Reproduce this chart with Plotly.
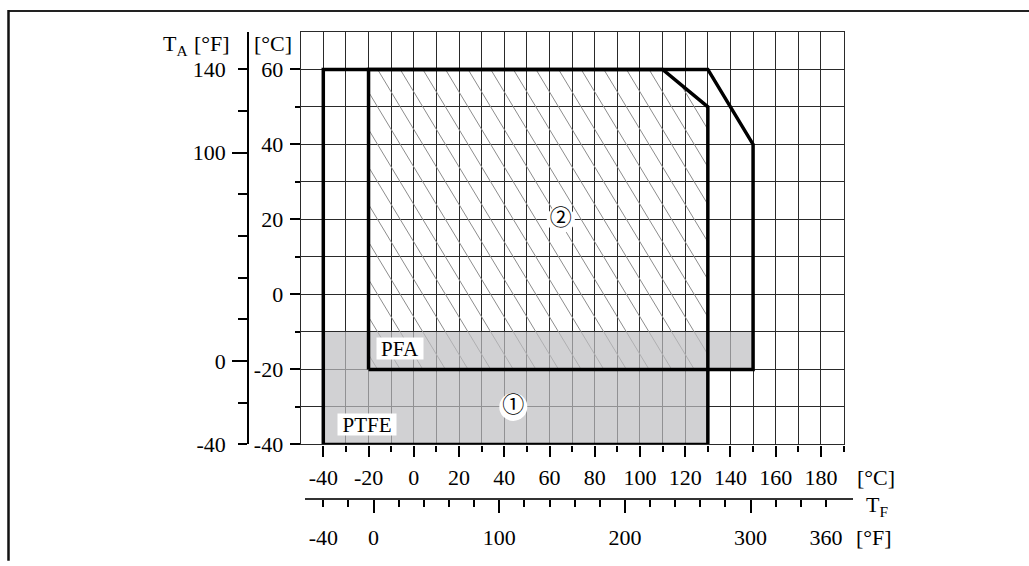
import plotly.graph_objects as go

# ---------------- data ----------------
# outlines (°C): T_F on x, T_A on y
ptfe_outline_x = [-40, -40, 110, 130, 130, -40]
ptfe_outline_y = [-40, 60, 60, 50, -40, -40]
pfa_outline_x = [-20, -20, 130, 150, 150, -20]
pfa_outline_y = [-20, 60, 60, 40, -20, -20]
# grey region (1)
gray_x = [-40, 130, 130, 150, 150, -40, -40]
gray_y = [-40, -40, -20, -20, -10, -10, -40]
# hatched region (2)
hatch_poly_x = [-20, -20, 110, 130, 130]
hatch_poly_y = [-20, 60, 60, 50, -20]

# axis ticks
c_x_major = [-40, -20, 0, 20, 40, 60, 80, 100, 120, 140, 160, 180]
c_x_minor = [-30, -10, 10, 30, 50, 70, 90, 110, 130, 150, 170, 190]
c_y_major = [-40, -20, 0, 20, 40, 60]
c_y_minor = [-30, -10, 10, 30, 50]
f_y_labeled = [-40, 0, 100, 140]
f_y_other = [-20, 20, 40, 60, 80, 120]
f_y_long = [0, 100]
f_x_labeled = [-40, 0, 100, 200, 300, 360]
f_x_other = [-20, 20, 40, 60, 80, 120, 140, 160, 180, 220, 240, 260, 280, 320, 340]
f_x_long = [0, 100, 200, 300]

labels = {"PFA": (-6, -14.3), "PTFE": (-20.5, -34.8)}
markers = {"\u2460": (44, -30), "\u2461": (65, 20)}


def txt(v):
    return str(v)  # plain hyphen-minus as in the reference


# ---------------- geometry ----------------
W, H = 1029, 566
L, R, T, B = 100, 100, 20, 20
PW, PH = W - L - R, H - T - B


def pxx(px):
    return (px - L) / PW


def pxy(py):
    return (H - B - py) / PH


C0_PX, C_SCALE = 323.3, 2.262      # -40 °C position, px per °C
X_LEFT = C0_PX - 10 * C_SCALE       # -50 °C
X_RIGHT = C0_PX + 230 * C_SCALE     # 190 °C
Y_TOP, Y_BOT = 32.0, 448.5          # 70 °C, -40 °C

FAX_L, FAX_R, FAX_Y = 305.0, 853.0, 504.0


def px_to_f(px):
    c = -40 + (px - C0_PX) / C_SCALE
    return 1.8 * c + 32


SERIF = "Liberation Serif, Times New Roman, serif"
FONT = dict(family=SERIF, size=22, color="black")
GRID = "#2a2a2a"


# ---------------- hatch lines clipped to polygon ----------------
def clip(p0, p1, px, py):
    n = len(px)
    cx, cy = sum(px) / n, sum(py) / n
    t0, t1 = 0.0, 1.0
    dx, dy = p1[0] - p0[0], p1[1] - p0[1]
    for i in range(n):
        ax, ay = px[i], py[i]
        bx, by = px[(i + 1) % n], py[(i + 1) % n]
        nx, ny = -(by - ay), (bx - ax)
        if nx * (cx - ax) + ny * (cy - ay) < 0:
            nx, ny = -nx, -ny
        num = nx * (p0[0] - ax) + ny * (p0[1] - ay)
        den = nx * dx + ny * dy
        if den == 0:
            if num < 0:
                return None
            continue
        t = -num / den
        if den > 0:
            t0 = max(t0, t)
        else:
            t1 = min(t1, t)
        if t0 > t1:
            return None
    return (p0[0] + t0 * dx, p0[1] + t0 * dy), (p0[0] + t1 * dx, p0[1] + t1 * dy)


SLOPE = 1.0
hx, hy = [], []
for k in range(-30, 30):
    c = 4 + 10 * k
    p0 = (c - SLOPE * 10, 70)
    p1 = (c + SLOPE * 90, -30)
    seg = clip(p0, p1, hatch_poly_x, hatch_poly_y)
    if seg:
        hx += [seg[0][0], seg[1][0], None]
        hy += [seg[0][1], seg[1][1], None]

fig = go.Figure()
fig.add_trace(go.Scatter(x=hx, y=hy, mode="lines",
                         line=dict(color="#8c8c8c", width=1), hoverinfo="skip"))
fig.add_trace(go.Scatter(x=gray_x, y=gray_y, mode="lines", fill="toself",
                         fillcolor="rgba(190,190,193,0.70)", line=dict(width=0),
                         hoverinfo="skip"))
for ox, oy in [(ptfe_outline_x, ptfe_outline_y), (pfa_outline_x, pfa_outline_y)]:
    fig.add_trace(go.Scatter(x=ox, y=oy, mode="lines",
                             line=dict(color="black", width=3.5), hoverinfo="skip"))
fig.add_trace(go.Scatter(
    x=[v[0] for v in markers.values()], y=[v[1] for v in markers.values()],
    mode="markers+text", text=list(markers.keys()), textposition="middle center",
    marker=dict(color="white", size=28, line=dict(width=0)),
    textfont=dict(family="Noto Sans CJK JP", size=22, color="black"),
    hoverinfo="skip"))
# dummy traces for secondary axes
fig.add_trace(go.Scatter(x=[None], y=[None], xaxis="x", yaxis="y2", showlegend=False))
fig.add_trace(go.Scatter(x=[None], y=[None], xaxis="x", yaxis="y3", showlegend=False))
fig.add_trace(go.Scatter(x=[None], y=[None], xaxis="x2", yaxis="y4", showlegend=False))
fig.add_trace(go.Scatter(x=[None], y=[None], xaxis="x3", yaxis="y4", showlegend=False))

for name, (lx, ly) in labels.items():
    fig.add_annotation(x=lx, y=ly, xref="x", yref="y", text=name, showarrow=False,
                       font=dict(family=SERIF, size=21, color="black"),
                       bgcolor="white", width=len(name) * 12 + 10, height=21,
                       borderpad=0)

tick_common = dict(ticks="outside", tickcolor="black", tickwidth=1.5,
                   tickfont=FONT, zeroline=False, fixedrange=True)

fig.update_layout(
    width=W, height=H, margin=dict(l=L, r=R, t=T, b=B),
    paper_bgcolor="white", plot_bgcolor="rgba(0,0,0,0)", showlegend=False,
    xaxis=dict(domain=[pxx(X_LEFT), pxx(X_RIGHT)], range=[-50, 190], anchor="y",
               tickmode="array", tickvals=c_x_major,
               ticktext=[txt(v) for v in c_x_major], ticklen=11,
               showgrid=True, gridcolor=GRID, gridwidth=1.2,
               showline=True, linecolor=GRID, linewidth=1.2, mirror=True,
               minor=dict(tickmode="array", tickvals=c_x_minor, ticks="outside",
                          ticklen=6, tickwidth=1.5, tickcolor="black",
                          showgrid=True, gridcolor=GRID, gridwidth=1.2),
               ticklabelstandoff=2, **tick_common),
    yaxis=dict(domain=[pxy(Y_BOT), pxy(Y_TOP)], range=[-40, 70], anchor="x",
               tickmode="array", tickvals=c_y_major,
               ticktext=[txt(v) for v in c_y_major], ticklen=10,
               showgrid=True, gridcolor=GRID, gridwidth=1.2,
               showline=True, linecolor=GRID, linewidth=1.2, mirror=True,
               minor=dict(tickmode="array", tickvals=c_y_minor, ticks="outside",
                          ticklen=5, tickwidth=1.5, tickcolor="black",
                          showgrid=True, gridcolor=GRID, gridwidth=1.2),
               ticklabelstandoff=2, **tick_common),
    yaxis2=dict(overlaying="y", anchor="free", position=pxx(248), side="left",
                range=[-40, 158], tickmode="array", tickvals=f_y_labeled,
                ticktext=[txt(v) for v in f_y_labeled], ticklen=9, showgrid=False,
                showline=True, linecolor="black", linewidth=1.5,
                minor=dict(tickmode="array", tickvals=f_y_other, ticks="outside",
                           ticklen=9, tickwidth=1.5, tickcolor="black",
                           showgrid=False),
                ticklabelstandoff=8, **tick_common),
    yaxis3=dict(overlaying="y", anchor="free", position=pxx(248), side="left",
                range=[-40, 158], tickmode="array", tickvals=f_y_long,
                ticklen=16, showgrid=False, showline=False, showticklabels=False,
                **tick_common),
    yaxis4=dict(domain=[pxy(Y_BOT), pxy(Y_TOP)], anchor="x2", visible=False,
                range=[0, 1], showgrid=False, zeroline=False),
    xaxis2=dict(domain=[pxx(FAX_L), pxx(FAX_R)], anchor="free", position=pxy(FAX_Y),
                range=[px_to_f(FAX_L), px_to_f(FAX_R)], tickmode="array",
                tickvals=f_x_labeled, ticktext=[txt(v) for v in f_x_labeled],
                ticklen=7, showgrid=False, showline=True, linecolor="#333",
                linewidth=1.5,
                minor=dict(tickmode="array", tickvals=f_x_other, ticks="outside",
                           ticklen=7, tickwidth=1.5, tickcolor="black",
                           showgrid=False),
                ticklabelstandoff=11, **tick_common),
    xaxis3=dict(overlaying="x2", anchor="free", position=pxy(FAX_Y),
                range=[px_to_f(FAX_L), px_to_f(FAX_R)], tickmode="array",
                tickvals=f_x_long, ticklen=13, showgrid=False, showline=False,
                showticklabels=False, **tick_common),
)

# axis titles / units
texts = [
    ("T<sub>A</sub>", 161, 45, "left"),
    ("[°F]", 212, 44, "center"),
    ("[°C]", 272.5, 44, "center"),
    ("[°C]", 876, 482, "center"),
    ("T<sub>F</sub>", 864, 511, "left"),
    ("[°F]", 874, 542, "center"),
]
for t_, px, py, xa in texts:
    fig.add_annotation(x=pxx(px), y=pxy(py), xref="paper", yref="paper", text=t_,
                       showarrow=False, xanchor=xa, yanchor="middle", font=FONT)

# page frame
fig.add_shape(type="line", xref="paper", yref="paper", x0=pxx(8.5), x1=pxx(1029),
              y0=pxy(11), y1=pxy(11), line=dict(color="#222", width=2))
fig.add_shape(type="line", xref="paper", yref="paper", x0=pxx(8.5), x1=pxx(8.5),
              y0=pxy(10), y1=pxy(566), line=dict(color="#111", width=2.5))

fig.write_html("out.html", config={"displayModeBar": False},
               post_script="document.body.style.margin='0px';"
                           "document.body.style.overflow='hidden';")
